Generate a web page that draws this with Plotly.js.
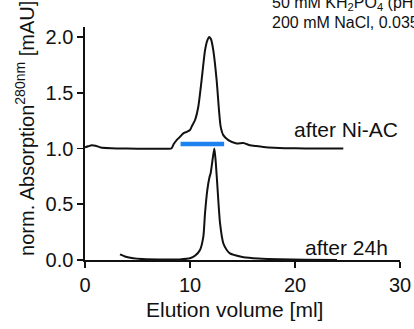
<!DOCTYPE html>
<html>
<head>
<meta charset="utf-8">
<script src="https://cdn.plot.ly/plotly-3.0.1.min.js"></script>
<style>
  html, body { margin: 0; padding: 0; background: #fff; overflow: hidden; }
  #chart { width: 414px; height: 329px; }
</style>
</head>
<body>
<div id="chart"></div>
<script>
// Elution volume (ml) and normalized absorption, upper trace drawn with +1.0 offset as in the figure
const niacX = [0, 0.3, 0.65, 1.0, 1.5, 2.5, 4, 6, 8.0, 8.25, 8.45, 8.73, 9.0, 9.36, 9.7, 10.0, 10.16, 10.48, 10.79, 11.1, 11.43, 11.65, 11.84, 12.0, 12.22, 12.54, 12.76, 12.92, 13.17, 13.65, 14.44, 15.08, 15.7, 16.3, 17.0, 18.0, 19.0, 21.0, 24.6];
const niacY = [1.01, 1.02, 1.03, 1.025, 1.01, 1.003, 1.0, 0.998, 0.998, 1.003, 1.04, 1.076, 1.1, 1.136, 1.15, 1.166, 1.196, 1.256, 1.375, 1.61, 1.88, 1.97, 2.0, 1.98, 1.88, 1.61, 1.345, 1.196, 1.12, 1.076, 1.046, 1.05, 1.03, 1.022, 1.014, 1.007, 1.003, 1.001, 1.0];

const h24X = [3.33, 3.8, 4.6, 5.5, 7.0, 9.0, 10.0, 10.5, 10.95, 11.27, 11.43, 11.65, 11.85, 11.97, 12.15, 12.32, 12.45, 12.63, 12.86, 13.17, 13.5, 13.8, 14.4, 15.1, 16.5, 18.5, 21.0, 24.0];
const h24Y = [0.05, 0.032, 0.015, 0.008, 0.004, 0.005, 0.015, 0.04, 0.09, 0.21, 0.42, 0.63, 0.74, 0.78, 0.9, 1.0, 0.88, 0.63, 0.33, 0.15, 0.09, 0.06, 0.04, 0.024, 0.013, 0.006, 0.003, 0.0];

// Pooled fraction bar
const poolX = [9.1, 13.25];
const poolY = [1.04, 1.04];

const xTicks = [0, 10, 20, 30];
const yTicks = [0, 0.5, 1.0, 1.5, 2.0];
const yTickText = ['0.0', '0.5', '1.0', '1.5', '2.0'];

const labels = {
  upper: 'after Ni-AC',
  lower: 'after 24h',
  xTitle: 'Elution volume [ml]',
  yTitle: 'norm. Absorption<sup>280nm</sup> [mAU]',
  buffer1: '50 mM KH<sub>2</sub>PO<sub>4</sub> (pH 7.4),',
  buffer2: '200 mM NaCl, 0.035% DDM'
};

const FONT = 'Liberation Sans, Arial, Helvetica, sans-serif';
const INK = '#111111';

const traces = [
  { x: niacX, y: niacY, type: 'scatter', mode: 'lines', line: { color: INK, width: 2, shape: 'spline', smoothing: 0.6 }, hoverinfo: 'skip', showlegend: false },
  { x: h24X, y: h24Y, type: 'scatter', mode: 'lines', line: { color: INK, width: 2, shape: 'spline', smoothing: 0.6 }, hoverinfo: 'skip', showlegend: false },
  { x: poolX, y: poolY, type: 'scatter', mode: 'lines', line: { color: '#1e82f0', width: 4.5 }, hoverinfo: 'skip', showlegend: false }
];

const layout = {
  width: 414, height: 329,
  margin: { l: 85, r: 14, t: 27, b: 69, pad: 0 },
  paper_bgcolor: '#ffffff', plot_bgcolor: '#ffffff',
  font: { family: FONT, color: INK, size: 20 },
  showlegend: false,
  xaxis: {
    range: [0, 30], tickvals: xTicks, ticks: 'outside', ticklen: 6, tickwidth: 1.6, tickcolor: INK,
    showline: true, linewidth: 1.6, linecolor: INK, showgrid: false, zeroline: false,
    tickfont: { family: FONT, size: 20, color: INK }, fixedrange: true
  },
  yaxis: {
    range: [0, 2.09], tickvals: yTicks, ticktext: yTickText, ticks: 'outside', ticklen: 6, tickwidth: 1.6, tickcolor: INK,
    showline: true, linewidth: 1.6, linecolor: INK, showgrid: false, zeroline: false,
    tickfont: { family: FONT, size: 20, color: INK }, fixedrange: true
  },
  annotations: [
    { text: labels.upper, x: 24.87, y: 1.172, xref: 'x', yref: 'y', xanchor: 'center', yanchor: 'middle', showarrow: false, font: { family: FONT, size: 21, color: INK } },
    { text: labels.lower, x: 24.87, y: 0.111, xref: 'x', yref: 'y', xanchor: 'center', yanchor: 'middle', showarrow: false, font: { family: FONT, size: 21, color: INK } },
    { text: labels.xTitle, x: 0.476, y: -0.2116, xref: 'paper', yref: 'paper', xanchor: 'center', yanchor: 'middle', showarrow: false, font: { family: FONT, size: 21, color: INK } },
    { text: labels.yTitle, x: -0.192, y: 0.565, xref: 'paper', yref: 'paper', xanchor: 'center', yanchor: 'middle', textangle: -90, showarrow: false, font: { family: FONT, size: 20, color: INK } },
    { text: labels.buffer1, x: 0.587, y: 1.102, xref: 'paper', yref: 'paper', xanchor: 'left', yanchor: 'middle', showarrow: false, font: { family: FONT, size: 16, color: INK } },
    { text: labels.buffer2, x: 0.587, y: 1.018, xref: 'paper', yref: 'paper', xanchor: 'left', yanchor: 'middle', showarrow: false, font: { family: FONT, size: 16, color: INK } }
  ]
};

Plotly.newPlot('chart', traces, layout, { staticPlot: true, displayModeBar: false });
</script>
</body>
</html>
